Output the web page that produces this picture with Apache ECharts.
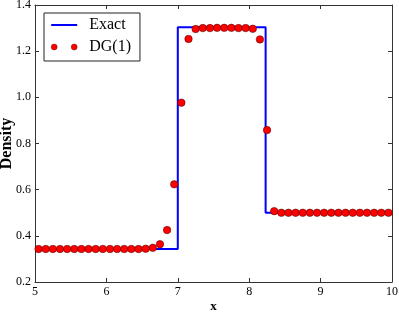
<!DOCTYPE html>
<html><head><meta charset="utf-8">
<script src="https://cdn.jsdelivr.net/npm/echarts@6/dist/echarts.min.js"></script>
<style>html,body{margin:0;padding:0;background:#fff}#c{width:399px;height:312px}</style>
</head><body><div id="c"></div>
<script>
const exactX = [5, 7.0, 7.0, 8.23, 8.23, 10];
const exactY = [0.3428, 0.3428, 1.304, 1.304, 0.5, 0.5];
const dgX = [5.05,5.15,5.25,5.35,5.45,5.55,5.65,5.75,5.85,5.95,
             6.05,6.15,6.25,6.35,6.45,6.55,6.65,6.75,6.85,6.95,
             7.05,7.15,7.25,7.35,7.45,7.55,7.65,7.75,7.85,7.95,
             8.05,8.15,8.25,8.35,8.45,8.55,8.65,8.75,8.85,8.95,
             9.05,9.15,9.25,9.35,9.45,9.55,9.65,9.75,9.85,9.95];
const dgY = [0.343,0.343,0.343,0.343,0.343,0.343,0.343,0.343,0.343,0.343,
             0.343,0.343,0.343,0.343,0.343,0.344,0.348,0.364,0.425,0.623,
             0.977,1.253,1.296,1.300,1.300,1.301,1.301,1.301,1.300,1.300,
             1.297,1.251,0.858,0.507,0.500,0.500,0.500,0.500,0.500,0.500,
             0.500,0.500,0.500,0.500,0.500,0.500,0.500,0.500,0.500,0.500];
const xTicks = [5, 6, 7, 8, 9, 10];
const yTicks = [0.2, 0.4, 0.6, 0.8, 1.0, 1.2, 1.4];

const font = 'Liberation Serif';
const axisCol = '#333';
const chart = echarts.init(document.getElementById('c'), null, {renderer: 'canvas'});
const common = {
  axisLine: {show: true, onZero: false, lineStyle: {color: axisCol, width: 1}},
  axisTick: {show: true, inside: true, length: 4, lineStyle: {color: axisCol}},
  splitLine: {show: false}
};
chart.setOption({
  animation: false,
  textStyle: {fontFamily: font},
  grid: {left: 35, right: 7, top: 5, bottom: 30, containLabel: false, outerBoundsMode: 'none'},
  legend: {
    left: 44, top: 13, orient: 'vertical',
    padding: [4, 9, 6, 7], itemGap: 6,
    itemWidth: 26, itemHeight: 6,
    borderColor: '#222', borderWidth: 1, borderRadius: 0,
    backgroundColor: '#fff',
    textStyle: {fontFamily: font, fontSize: 16, color: '#000', padding: [0, 0, 0, 7]},
    data: [
      {name: 'Exact', icon: 'path://M0,0 L0.01,0 Z M0,2 L26,2 L26,4 L0,4 Z M0,6 L0.01,6 Z'},
      {name: 'DG(1)', icon: 'path://M0,3 a3,3 0 1,0 6,0 a3,3 0 1,0 -6,0 M20,3 a3,3 0 1,0 6,0 a3,3 0 1,0 -6,0',
       itemStyle: {color: '#ff0000', borderColor: '#600000', borderWidth: 0.4}}
    ]
  },
  xAxis: [
    Object.assign({type: 'value', min: xTicks[0], max: xTicks[xTicks.length-1], interval: 1, position: 'bottom',
      name: 'x', nameLocation: 'middle', nameGap: 18, nameMoveOverlap: false,
      nameTextStyle: {fontFamily: font, fontSize: 13, fontWeight: 'bold', color: '#000'},
      axisLabel: {fontFamily: font, fontSize: 12, color: '#000', margin: 4}}, common),
    Object.assign({type: 'value', min: 5, max: 10, interval: 1, position: 'top', axisLabel: {show: false}}, common)
  ],
  yAxis: [
    Object.assign({type: 'value', min: yTicks[0], max: yTicks[yTicks.length-1], interval: 0.2, position: 'left',
      name: 'Density', nameLocation: 'middle', nameGap: 20, nameMoveOverlap: false,
      nameTextStyle: {fontFamily: font, fontSize: 16, fontWeight: 'bold', color: '#000'},
      axisLabel: {fontFamily: font, fontSize: 12, color: '#000', margin: 4, formatter: v => v.toFixed(1)}}, common),
    Object.assign({type: 'value', min: 0.2, max: 1.4, interval: 0.2, position: 'right', axisLabel: {show: false}}, common)
  ],
  series: [
    {name: 'Exact', type: 'line', symbol: 'none', showSymbol: false,
     lineStyle: {color: '#0000ff', width: 2}, itemStyle: {color: '#0000ff'},
     data: exactX.map((x, i) => [x, exactY[i]]), z: 2},
    {name: 'DG(1)', type: 'scatter', symbol: 'circle', symbolSize: 7.5,
     itemStyle: {color: '#ff0000', borderColor: '#400000', borderWidth: 0.5, opacity: 1},
     data: dgX.map((x, i) => [x, dgY[i]]), z: 3}
  ]
});
</script></body></html>
